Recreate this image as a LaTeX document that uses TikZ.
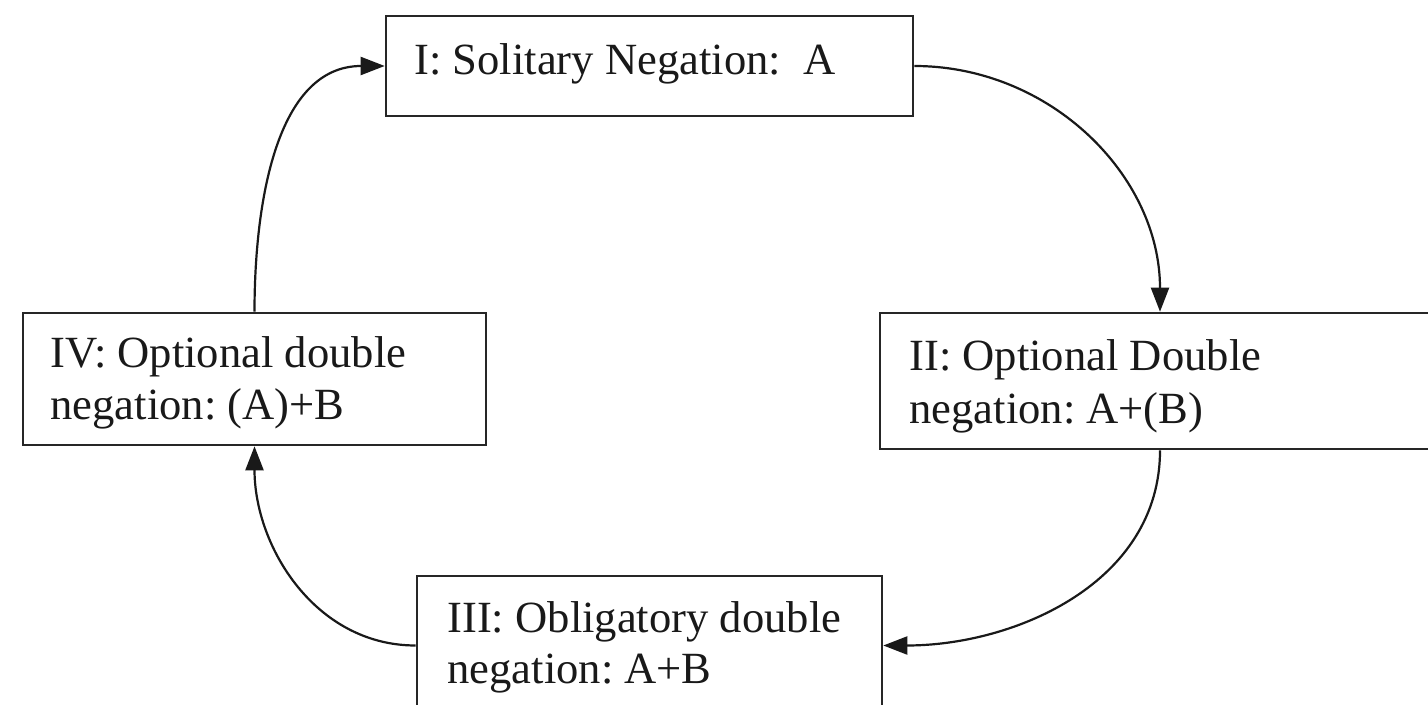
\documentclass[tikz,border=0pt]{standalone}
\usepackage{fontspec}
\setmainfont{Liberation Serif}
\usetikzlibrary{arrows.meta,fit}
\begin{document}
\frenchspacing
\begin{tikzpicture}[x=0.5pt,y=-0.5pt,
  box/.style={draw=black!85,line width=1.3pt,inner sep=0pt},
  txt/.style={anchor=base west,inner sep=0pt,font=\fontsize{22.3}{26}\selectfont,text=black!90},
  conn/.style={draw=black!90,line width=1.1pt,-{Triangle[length=12pt,width=9pt]}}]
\useasboundingbox (0,0) rectangle (1428,705);
\clip (0,0) rectangle (1428,705);
\fill[white] (0,0) rectangle (1428,705);
% boxes
\node[box,fit={(386,16)(913,116)}] (I) {};
\node[box,fit={(880,313)(1440,449)}] (II) {};
\node[box,fit={(417,576)(882,715)}] (III) {};
\node[box,fit={(23,313)(486,445)}] (IV) {};
% texts
\node[txt] (tI) at (414,75) {I: Solitary Negation: \ A};
\node[txt] (tIIa) at (909,371) {II: Optional Double};
\node[txt] (tIIb) at (909,423) {negation: A+(B)};
\node[txt] (tIIIa) at (447,632) {III: Obligatory double};
\node[txt] (tIIIb) at (447,683) {negation: A+B};
\node[txt] (tIVa) at (50,367) {IV: Optional double};
\node[txt] (tIVb) at (50,419) {negation: (A)+B};
% connectors
\draw[conn] (I.east) to[out=0,in=90] (II.north);
\draw[conn] (II.south) to[out=-90,in=0] (III.east);
\draw[conn] (III.west) to[out=180,in=-90] (IV.south);
\draw[conn] (IV.north) to[out=90,in=180] (I.west);
\end{tikzpicture}
\end{document}
